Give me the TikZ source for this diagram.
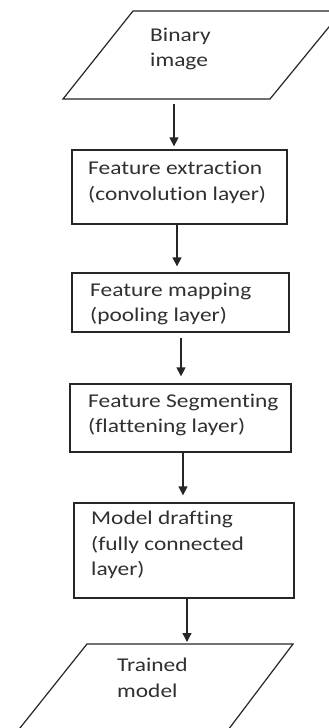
\documentclass[tikz,border=0pt]{standalone}
\usepackage{fontspec}
\setmainfont{Carlito}[FakeStretch=1.2, Ligatures=NoCommon]
\usetikzlibrary{arrows.meta}
\definecolor{linec}{HTML}{262626}
\definecolor{textc}{HTML}{303030}
\tikzset{
  stepbox/.style={draw=linec, line width=1.3pt, rectangle, inner sep=0pt},
  lbl/.style={anchor=west, align=left, inner sep=0pt, text=textc,
    font=\fontsize{19.5}{25.5}\selectfont},
  arr/.style={draw=linec, line width=1.3pt, -{Triangle[width=9pt,length=9pt]}},
  para/.style={draw=linec, line width=1.2pt, line join=miter},
}
\begin{document}
\begin{tikzpicture}[x=1pt, y=-1pt]
\useasboundingbox (0,0) rectangle (329,728);
\clip (0,0) rectangle (329,728);
\fill[white] (0,0) rectangle (329,728);

% top parallelogram
\coordinate (p1a) at (133,11);
\coordinate (p1b) at (342,11);
\coordinate (p1c) at (270,99);
\coordinate (p1d) at (63,99);
\draw[para] (p1a) -- (p1b) -- (p1c) -- (p1d) -- cycle;
\coordinate (p1s) at (174,99);
\node[lbl] (t0) at (150,49) {Binary\\image};

% boxes
\node[stepbox, minimum width=215pt, minimum height=74pt] (b1) at (179.5,187) {};
\node[lbl] (t1) at (88,182.5) {Feature extraction\\(convolution layer)};

\node[stepbox, minimum width=217pt, minimum height=59pt] (b2) at (180.5,302.5) {};
\node[lbl] (t2) at (90,304) {Feature mapping\\(pooling layer)};

\node[stepbox, minimum width=221pt, minimum height=68pt] (b3) at (180.5,418) {};
\node[lbl] (t3) at (88,415) {Feature Segmenting\\(flattening layer)};

\node[stepbox, minimum width=220pt, minimum height=95pt] (b4) at (184,550.5) {};
\node[lbl] (t4) at (91,545) {Model drafting\\(fully connected\\layer)};

% bottom parallelogram
\coordinate (p2a) at (87,644);
\coordinate (p2b) at (293,644);
\coordinate (p2c) at (222,738);
\coordinate (p2d) at (12,738);
\draw[para] (p2a) -- (p2b) -- (p2c) -- (p2d) -- cycle;
\coordinate (p2n) at (187,644);
\node[lbl] (t5) at (117,678) {Trained\\model};

% arrows
\draw[arr, shorten <=5pt, shorten >=3pt] (p1s) -- (p1s |- b1.north);
\draw[arr, shorten >=6pt] ([xshift=-2.5pt]b1.south) -- ([xshift=-2.5pt]b1.south |- b2.north);
\draw[arr, shorten <=5pt, shorten >=7pt] ([xshift=0.5pt]b2.south) -- ([xshift=0.5pt]b2.south |- b3.north);
\draw[arr, shorten >=7pt] ([xshift=2.5pt]b3.south) -- ([xshift=2.5pt]b3.south |- b4.north);
\draw[arr, shorten >=2pt] ([xshift=3pt]b4.south) -- (p2n);
\end{tikzpicture}
\end{document}
